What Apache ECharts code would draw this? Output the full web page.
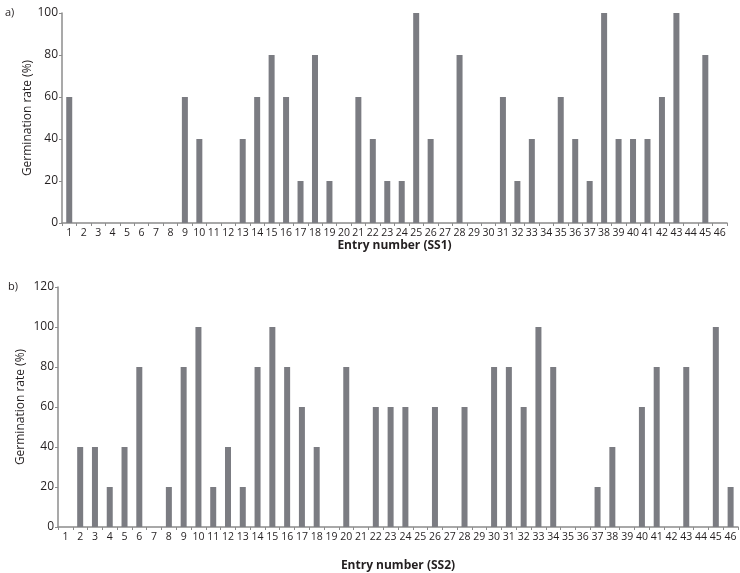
<!DOCTYPE html>
<html>
<head>
<meta charset="utf-8">
<script src="https://cdn.jsdelivr.net/npm/echarts@6/dist/echarts.min.js"></script>
<style>html,body{margin:0;padding:0;background:#fff}#c{width:740px;height:573px}</style>
</head>
<body>
<div id="c"></div>
<script>
const entries = Array.from({length: 46}, (_, i) => String(i + 1));
const ss1Values = [60,0,0,0,0,0,0,0,60,40,0,0,40,60,80,60,20,80,20,0,60,40,20,20,100,40,0,80,0,0,60,20,40,0,60,40,20,100,40,40,40,60,100,0,80,0];
const ss2Values = [0,40,40,20,40,80,0,20,80,100,20,40,20,80,100,80,60,40,0,80,0,60,60,60,0,60,0,60,0,80,80,60,100,80,0,0,20,40,0,60,80,0,80,0,100,20];
const yTicksA = [0, 20, 40, 60, 80, 100];
const yTicksB = [0, 20, 40, 60, 80, 100, 120];

const font = '"Open Sans", "Noto Sans", sans-serif';
const axisCol = '#8c8c8c';
const barCol = '#7b7c82';
const textCol = '#231f20';

function xAxis(gridIndex, name, gap) {
  return {
    type: 'category', gridIndex, data: entries,
    axisLine: {lineStyle: {color: axisCol, width: 1.5}},
    axisTick: {show: true, length: 3, alignWithLabel: false, lineStyle: {color: axisCol}},
    axisLabel: {interval: 0, color: textCol, fontSize: 10.5, fontFamily: font, margin: 5},
    name, nameLocation: 'middle', nameGap: gap, nameMoveOverlap: false,
    nameTextStyle: {color: textCol, fontSize: 12, fontWeight: 'bold', fontFamily: font}
  };
}
function yAxis(gridIndex, max, gap) {
  return {
    type: 'value', gridIndex, min: 0, max, interval: 20,
    axisLine: {show: true, lineStyle: {color: axisCol, width: 1.5}},
    axisTick: {show: true, length: 3, lineStyle: {color: axisCol}},
    splitLine: {show: false},
    axisLabel: {color: textCol, fontSize: 12, fontFamily: font, margin: 4},
    name: 'Germination rate (%)', nameLocation: 'middle', nameGap: gap, nameMoveOverlap: false,
    nameTextStyle: {color: textCol, fontSize: 12, fontFamily: font}
  };
}

const chart = echarts.init(document.getElementById('c'), null, {renderer: 'canvas'});
chart.setOption({
  animation: false,
  title: [
    {text: 'a)', left: 0, top: 2, textStyle: {fontSize: 11, fontWeight: 'normal', color: textCol, fontFamily: font}},
    {text: 'b)', left: 3, top: 276, textStyle: {fontSize: 11, fontWeight: 'normal', color: textCol, fontFamily: font}}
  ],
  grid: [
    {left: 62, right: 13, top: 13, height: 210},
    {left: 58, right: 2, top: 287, height: 245}
  ],
  xAxis: [xAxis(0, 'Entry number (SS1)', 17), xAxis(1, 'Entry number (SS2)', 33)],
  yAxis: [yAxis(0, 100, 28), yAxis(1, 120, 31)],
  series: [
    {type: 'bar', xAxisIndex: 0, yAxisIndex: 0, data: ss1Values, barWidth: 6, itemStyle: {color: barCol}},
    {type: 'bar', xAxisIndex: 1, yAxisIndex: 1, data: ss2Values, barWidth: 6, itemStyle: {color: barCol}}
  ]
});
</script>
</body>
</html>
